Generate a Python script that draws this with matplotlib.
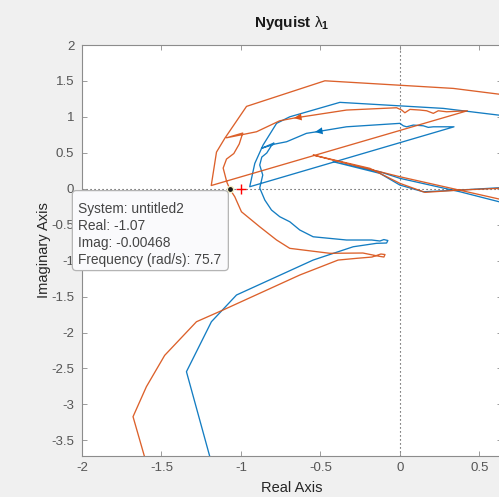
import matplotlib
matplotlib.use("Agg")
import matplotlib.pyplot as plt
from matplotlib.patches import FancyBboxPatch
from matplotlib.transforms import IdentityTransform

plt.rcParams["font.family"] = ["Liberation Sans", "DejaVu Sans"]
plt.rcParams["axes.unicode_minus"] = False
plt.rcParams["mathtext.fontset"] = "custom"
plt.rcParams["mathtext.rm"] = "Liberation Sans"
plt.rcParams["mathtext.it"] = "Liberation Sans"
plt.rcParams["mathtext.bf"] = "Liberation Sans:bold"

# ---- characteristic locus data (real / imaginary parts) ----
sys1_re = [-1.178, -1.196, -1.343, -1.186, -1.028, -0.546, -0.357, -0.294, -0.147,
           -0.084, -0.076, -0.101, -0.126, -0.178, -0.336, -0.546, -0.630, -0.693,
           -0.756, -0.808, -0.850, -0.882, -0.863, -0.882, -0.869, -0.838, -0.806,
           -0.793, -0.871, -0.787, -0.713, -0.588, -0.535, -0.336, 0.000, 0.021,
           0.042, 0.084, 0.147, 0.178, 0.210, 0.340, -0.945, -0.913, -0.861,
           -0.776, -0.693, -0.378, 0.273, 0.619, 0.693]
sys1_im = [-3.912, -3.727, -2.545, -1.850, -1.478, -0.992, -0.853, -0.807, -0.759,
           -0.755, -0.720, -0.707, -0.727, -0.713, -0.713, -0.668, -0.574, -0.459,
           -0.389, -0.296, -0.157, 0.010, 0.191, 0.330, 0.441, 0.497, 0.608,
           0.636, 0.562, 0.622, 0.654, 0.771, 0.789, 0.862, 0.910, 0.876,
           0.862, 0.886, 0.876, 0.854, 0.862, 0.862, 0.028, 0.353, 0.608,
           0.910, 1.001, 1.202, 1.118, 1.025, 1.011]
sys1_branch_re = [0.693, 0.624, 0.378, 0.000, -0.126, -0.420, -0.126, 0.000, 0.147,
                  0.378, 0.624, 0.693]
sys1_branch_im = [-0.220, -0.181, -0.042, 0.145, 0.236, 0.376, 0.214, 0.051, -0.042,
                  -0.018, 0.014, 0.017]

sys2_re = [-1.584, -1.606, -1.679, -1.595, -1.480, -1.280, -1.113, -0.861, -0.630,
           -0.389, -0.273, -0.176, -0.120, -0.094, -0.101, -0.139, -0.233, -0.441,
           -0.693, -0.776, -0.882, -0.997, -1.039, -1.070, -1.089, -1.112, -1.091,
           -1.045, -1.011, -0.989, -1.091, -0.902, -0.756, -0.667, -0.336, -0.021,
           0.011, 0.031, 0.063, 0.126, 0.168, 0.210, 0.241, 0.294, 0.424,
           -1.187, -1.154, -1.102, -0.965, -0.472, 0.336, 0.619, 0.756]
sys2_im = [-3.912, -3.733, -3.171, -2.754, -2.318, -1.850, -1.687, -1.433, -1.200,
           -0.992, -0.968, -0.950, -0.908, -0.915, -0.950, -0.936, -0.894, -0.898,
           -0.829, -0.713, -0.529, -0.320, -0.111, -0.00468, 0.093, 0.288, 0.413,
           0.490, 0.622, 0.775, 0.709, 0.793, 0.946, 0.983, 1.095, 1.127,
           1.095, 1.057, 1.104, 1.095, 1.085, 1.049, 1.085, 1.071, 1.085,
           0.045, 0.510, 0.701, 1.146, 1.502, 1.396, 1.317, 1.275]
sys2_branch_re = [0.693, 0.624, 0.000, -0.422, -0.546, -0.189, 0.000, 0.157, 0.378,
                  0.624, 0.693]
sys2_branch_im = [-0.178, -0.143, 0.167, 0.399, 0.469, 0.284, 0.075, -0.050, -0.018,
                  0.006, 0.010]

# frequency-direction arrows (index into the main locus arrays)
sys1_arrow_idx = 32
sys2_arrow_idx = 33

# data tip on system 2
tip_re, tip_im, tip_freq = -1.07, -0.00468, 75.7
tip_lines = ["System: untitled2", f"Real: {tip_re:g}", f"Imag: {tip_im:g}",
             f"Frequency (rad/s): {tip_freq:g}"]

x_ticks = [-2, -1.5, -1, -0.5, 0, 0.5]
y_ticks = [2, 1.5, 1, 0.5, 0, -0.5, -1, -1.5, -2, -2.5, -3, -3.5]

BLUE = "#0072BD"
ORANGE = "#D95319"

W, H = 499, 497
fig = plt.figure(figsize=(W / 100, H / 100), dpi=100, facecolor="#f0f0f0")
ax = fig.add_axes([82 / W, (H - 456) / H, (502 - 82) / W, (456 - 45) / H])
ax.set_facecolor("white")
ax.set_xlim(-2, 0.642)
ax.set_ylim(-3.718, 2.0)

# zero reference lines
ax.axhline(0, color="#3a3a3a", lw=0.8, dashes=(1, 2.6), zorder=1)
ax.axvline(0, color="#3a3a3a", lw=0.8, dashes=(1, 2.6), zorder=1)

for re, im, br_re, br_im, col, ai in [
    (sys1_re, sys1_im, sys1_branch_re, sys1_branch_im, BLUE, sys1_arrow_idx),
    (sys2_re, sys2_im, sys2_branch_re, sys2_branch_im, ORANGE, sys2_arrow_idx),
]:
    ax.plot(re, im, color=col, lw=0.95, zorder=3, solid_joinstyle="round", alpha=0.92)
    ax.plot(br_re, br_im, color=col, lw=0.95, zorder=3, solid_joinstyle="round", alpha=0.92)
    ax.annotate("", xy=(re[ai], im[ai]), xytext=(re[ai + 1], im[ai + 1]),
                arrowprops=dict(arrowstyle="-|>,head_length=0.55,head_width=0.25",
                                color=col, lw=0.01, shrinkA=0, shrinkB=0,
                                mutation_scale=10), zorder=4)

# critical point
ax.plot(-1, 0, "+", color="red", ms=7, mew=1.0, zorder=6)
# selected data tip
ax.plot(tip_re, tip_im, "o", ms=4.5, mfc="#1a1a1a", mec="#f4efc4", mew=1.0, zorder=7)

ax.set_xticks(x_ticks)
ax.set_xticklabels([f"{v:g}" for v in x_ticks])
ax.set_yticks(y_ticks)
ax.set_yticklabels([f"{v:g}" for v in y_ticks])
ax.tick_params(direction="in", length=3.6, width=0.6, color="#8c8c8c",
               labelsize=9.5, labelcolor="#555555", top=True, right=True)
ax.tick_params(axis="x", pad=4)
ax.tick_params(axis="y", pad=5.5)
for s in ax.spines.values():
    s.set_color("#8c8c8c")
    s.set_linewidth(0.8)

ax.set_xlabel("Real Axis", fontsize=10.5, color="#262626", labelpad=5)
ax.set_ylabel("Imaginary Axis", fontsize=10.5, color="#262626", labelpad=0.5)
ax.set_title(r"$\mathbf{Nyquist}\ \lambda_\mathbf{1}$", fontsize=11, color="#1a1a1a", pad=13)

# data tip box, anchored at the tip location in display pixels
fig.canvas.draw()
px, py = ax.transData.transform((tip_re, tip_im))
box = FancyBboxPatch((px - 157.5, py - 81.5), 156.0, 80.0,
                     boxstyle="round,pad=0,rounding_size=4",
                     fc="#fafafc", ec="#b4b4b4", lw=0.9,
                     transform=IdentityTransform(), zorder=5)
fig.add_artist(box)
for k, line in enumerate(tip_lines):
    fig.text(px - 151.5, py - 23.6 - 17.2 * k, line, transform=IdentityTransform(),
             fontsize=9.9, color="#454545", ha="left", va="baseline", zorder=6)

fig.savefig("out.png", dpi=100, facecolor=fig.get_facecolor())
